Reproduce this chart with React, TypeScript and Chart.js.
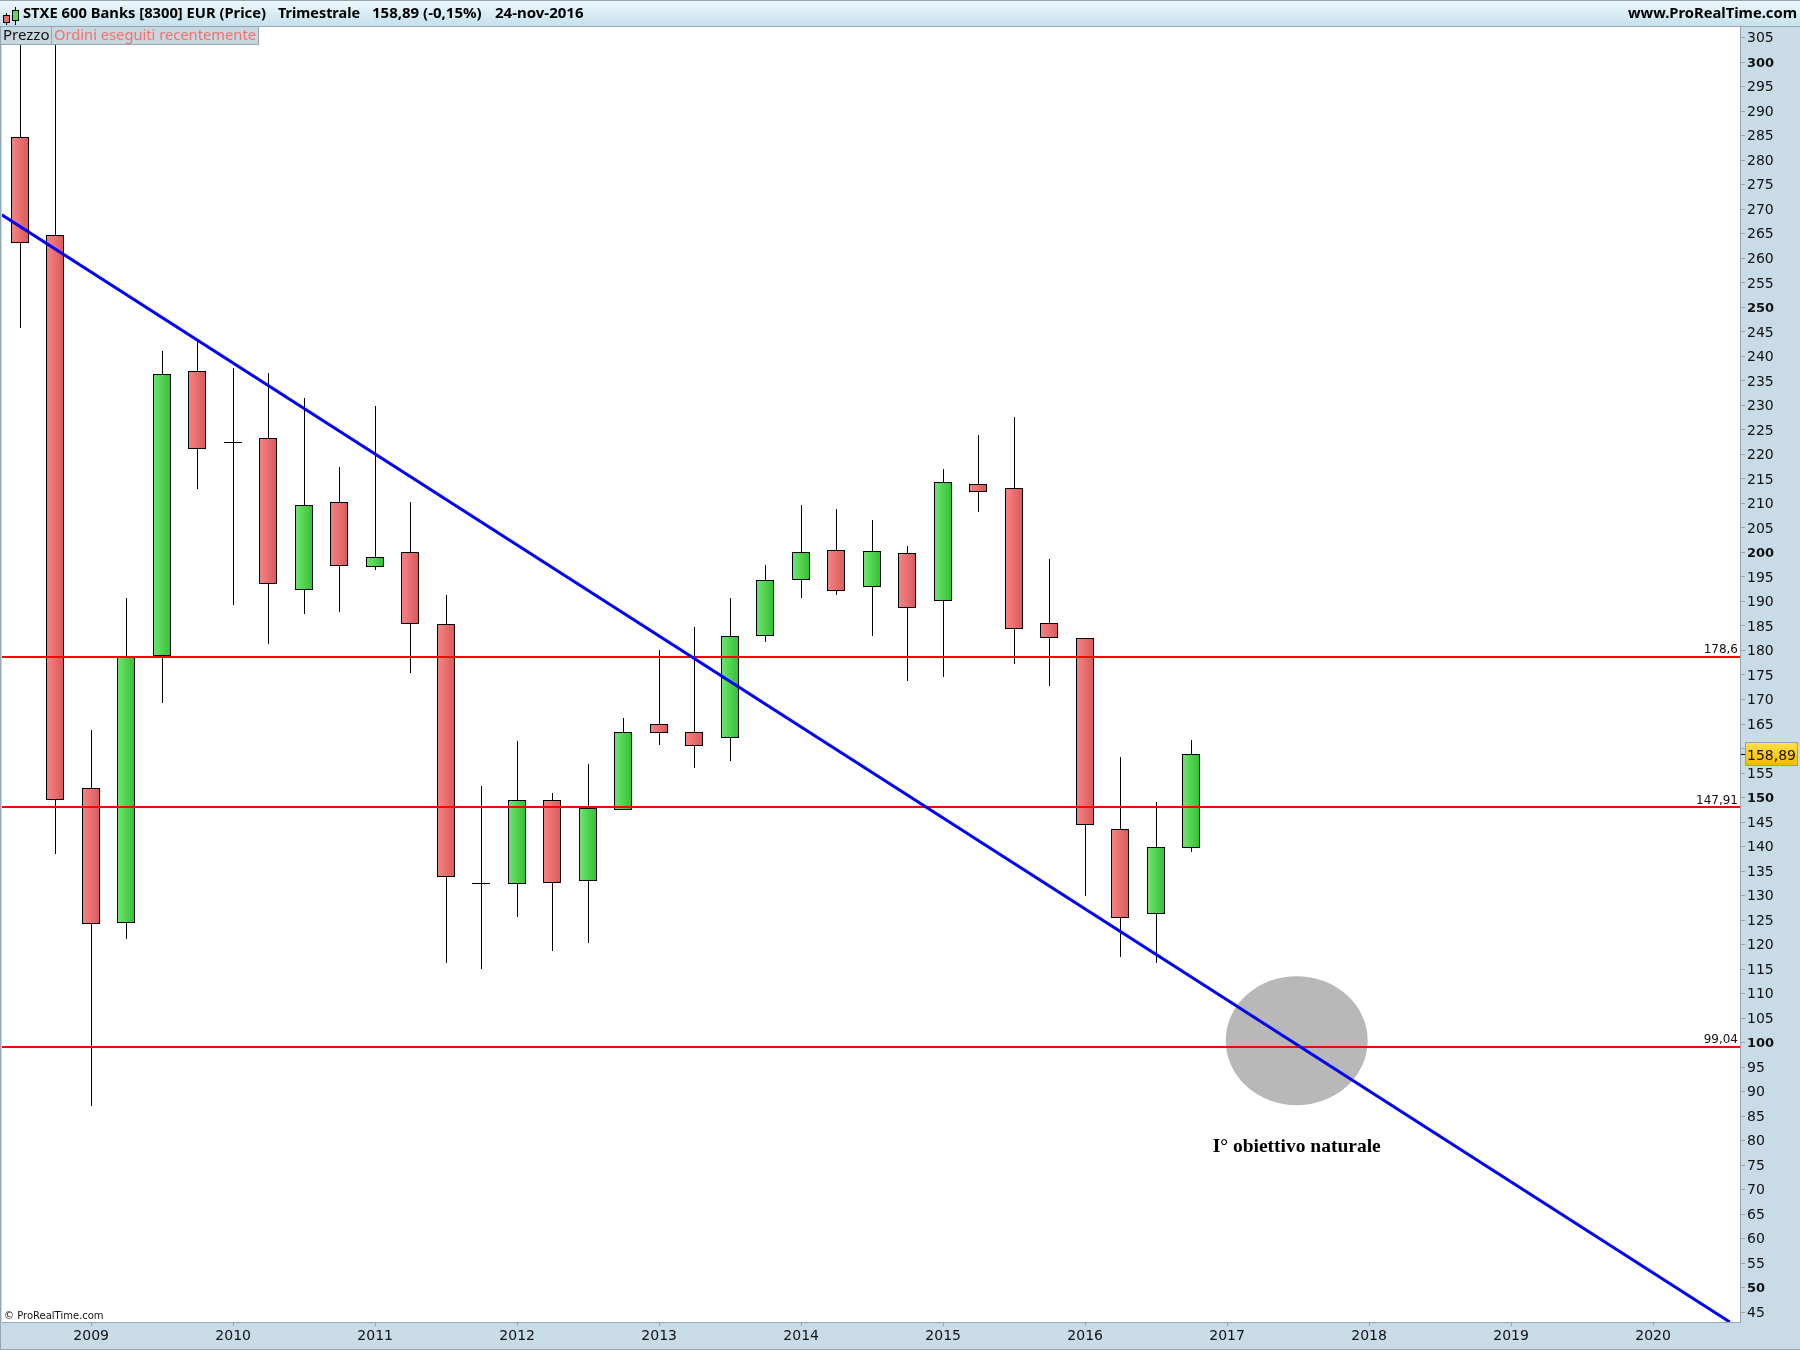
import React, { useEffect, useRef } from "react";
import { Chart, registerables } from "chart.js";

Chart.register(...registerables);

const quarters = [2008.5,2008.75,2009,2009.25,2009.5,2009.75,2010,2010.25,2010.5,2010.75,2011,2011.25,2011.5,2011.75,2012,2012.25,2012.5,2012.75,2013,2013.25,2013.5,2013.75,2014,2014.25,2014.5,2014.75,2015,2015.25,2015.5,2015.75,2016,2016.25,2016.5,2016.75];
const opens = [284.7,264.8,151.9,124.5,178.9,237,222.5,223.3,192.4,210.3,197.1,200.1,185.5,132.5,132.4,149.5,133,147.5,165,163.4,162.2,183,194.4,200.4,193,199.8,190,213.9,213.1,185.7,182.5,143.5,126.3,139.8];
const closes = [263.2,149.4,124.3,178.8,236.4,221.2,222.5,193.6,209.7,197.3,199.1,185.5,133.7,132.5,149.5,132.6,147.9,163.4,163.2,160.6,183,194.3,200,192.2,200.2,188.7,214.3,212.4,184.4,182.6,144.3,125.5,140,158.89];
const highs = [330,330,163.8,190.7,241.1,243.1,237.6,236.6,231.5,217.4,229.9,210.3,191.4,152.4,161.5,150.9,156.8,166.2,180.1,184.8,190.7,197.4,209.7,208.9,206.6,201.3,217,224,227.6,198.7,182.5,158.3,149.1,161.7];
const lows = [245.8,138.5,87.1,121.2,169.3,213,189.3,181.4,187.5,187.9,196.5,175.5,116.3,115.1,125.7,118.7,120.4,147.4,160.8,156,157.4,181.8,190.8,191.4,183,173.8,174.6,208.3,177.3,172.8,130,117.5,116.3,138.9];

const levels = [178.6, 147.91, 99.04];
const levelLabels = ["178,6", "147,91", "99,04"];
const trendX = [2008.37, 2020.54];
const trendY = [268.9, 43];
const lastPrice = 158.89;
const lastPriceLabel = "158,89";
const target = { x: 2017.49, y: 100.4, rx: 0.5, ry: 13.16, labelY: 78.8 };
const targetLabel = "I° obiettivo naturale";

const X_MIN = 2008.372, X_MAX = 2020.612, Y_MIN = 43, Y_MAX = 307.2;
const PANEL = "#c9dbe6", EDGE = "#93a6b2", BODY_W = 18;
const AXIS_FONT = "'DejaVu Sans'";
const HEAD_FONT = "'Noto Sans'";

const headerTexts: [string, number, number][] = [
  ["STXE 600 Banks [8300] EUR (Price)", 23, 243],
  ["Trimestrale", 278, 82],
  ["158,89 (-0,15%)", 372, 112],
  ["24-nov-2016", 495, 90],
];

const snap = {
  id: "snap",
  afterDatasetsUpdate(chart: any) {
    chart.getSortedVisibleDatasetMetas().forEach((m: any) => {
      if (m.type === "line") {
        if (m.data.length === 2 && m.data[0].y === m.data[1].y) {
          m.data.forEach((p: any) => { p.y = Math.floor(p.y); });
        }
        return;
      }
      m.data.forEach((el: any) => {
        el.x = el.width > 1 ? Math.floor(el.x) : Math.floor(el.x) + 0.5;
        el.y = Math.round(el.y);
        el.base = Math.round(el.base);
        if (Math.abs(el.y - el.base) < 1) el.base = el.y + 1;
      });
    });
  },
};

const chrome = {
  id: "chrome",
  beforeDraw(chart: any) {
    const { ctx, chartArea: a, width, height } = chart;
    ctx.save();
    ctx.fillStyle = PANEL;
    ctx.fillRect(0, 0, width, height);
    ctx.fillStyle = "#ffffff";
    ctx.fillRect(a.left, a.top, a.right - a.left, a.bottom - a.top);
    ctx.fillStyle = EDGE;
    ctx.fillRect(0, 0, 1, height);
    ctx.fillRect(0, height - 1, width, 1);
    ctx.restore();
  },
  beforeDatasetsDraw(chart: any) {
    const { ctx, scales } = chart;
    const cx = scales.x.getPixelForValue(target.x);
    const cy = scales.y.getPixelForValue(target.y);
    const rx = Math.abs(scales.x.getPixelForValue(target.x + target.rx) - cx);
    const ry = Math.abs(scales.y.getPixelForValue(target.y + target.ry) - cy);
    ctx.save();
    ctx.fillStyle = "#b8b8b8";
    ctx.beginPath();
    ctx.ellipse(cx, cy, rx, ry, 0, 0, Math.PI * 2);
    ctx.fill();
    ctx.fillStyle = "#000000";
    ctx.font = "bold 19.5px 'Liberation Serif'";
    ctx.textAlign = "center";
    ctx.textBaseline = "middle";
    ctx.fillText(targetLabel, cx, scales.y.getPixelForValue(target.labelY));
    ctx.restore();
  },
  afterDraw(chart: any) {
    const { ctx, scales, chartArea: a, width } = chart;
    ctx.save();
    // level labels
    ctx.fillStyle = "#111111";
    ctx.font = `12px ${AXIS_FONT}`;
    ctx.textAlign = "right";
    ctx.textBaseline = "bottom";
    levels.forEach((v, i) => ctx.fillText(levelLabels[i], a.right - 2, scales.y.getPixelForValue(v) - 1));
    ctx.font = `10px ${AXIS_FONT}`;
    ctx.textAlign = "left";
    ctx.fillText("© ProRealTime.com", 4, a.bottom - 1);

    // header
    const g = ctx.createLinearGradient(0, 0, 0, 26);
    g.addColorStop(0, "#eef9fd");
    g.addColorStop(1, "#c6e0ec");
    ctx.fillStyle = g;
    ctx.fillRect(0, 0, width, 26);
    ctx.fillStyle = EDGE;
    ctx.fillRect(0, 26, width, 1);
    ctx.fillRect(0, 0, width, 1);
    // icon
    ctx.fillStyle = "#000";
    ctx.fillRect(6, 13, 1, 12);
    ctx.fillRect(15, 7, 1, 18);
    ctx.fillStyle = "#e86a6a";
    ctx.strokeStyle = "#000";
    ctx.fillRect(3.5, 15.5, 6, 7);
    ctx.strokeRect(3.5, 15.5, 6, 7);
    ctx.fillStyle = "#55dd55";
    ctx.fillRect(12.5, 10.5, 6, 10);
    ctx.strokeRect(12.5, 10.5, 6, 10);
    ctx.fillStyle = "#000";
    ctx.font = `bold 15px ${HEAD_FONT}`;
    ctx.textBaseline = "middle";
    ctx.textAlign = "left";
    headerTexts.forEach(([t, x, w]) => ctx.fillText(t, x, 13.5, w));
    ctx.textAlign = "right";
    ctx.fillText("www.ProRealTime.com", 1797, 13.5, 169);

    // tabs
    ctx.fillStyle = "#c8d6de";
    ctx.fillRect(1, 27, 257, 18);
    ctx.fillStyle = EDGE;
    ctx.fillRect(51, 27, 1, 18);
    ctx.fillRect(1, 44, 257, 1);
    ctx.fillRect(258, 27, 1, 18);
    ctx.textAlign = "left";
    ctx.font = `15px ${HEAD_FONT}`;
    ctx.fillStyle = "#111";
    ctx.fillText("Prezzo", 3, 36);
    ctx.fillStyle = "#f07272";
    ctx.fillText("Ordini eseguiti recentemente", 54, 36, 202);

    // last price tag
    const py = scales.y.getPixelForValue(lastPrice);
    const tg = ctx.createLinearGradient(0, py - 12, 0, py + 12);
    tg.addColorStop(0, "#ffe24a");
    tg.addColorStop(1, "#f4b800");
    ctx.fillStyle = "#000";
    ctx.fillRect(a.right + 1, py, 4, 1);
    ctx.fillStyle = tg;
    ctx.fillRect(1745.5, Math.round(py) - 11.5, 52, 23);
    ctx.strokeStyle = "#94a0a8";
    ctx.strokeRect(1745.5, Math.round(py) - 11.5, 52, 23);
    ctx.fillStyle = "#111";
    ctx.font = `14px ${AXIS_FONT}`;
    ctx.textBaseline = "middle";
    ctx.fillText(lastPriceLabel, 1747, py + 2);
    ctx.restore();
  },
};

function bodyFill(ctx: any) {
  const chart = ctx.chart;
  const raw = ctx.raw;
  if (!raw || !chart.scales.x) return "#888888";
  const px = Math.floor(chart.scales.x.getPixelForValue(raw.x));
  if (!Number.isFinite(px)) return "#888888";
  const up = raw.y[1] >= raw.y[0];
  const g = chart.ctx.createLinearGradient(px - BODY_W / 2, 0, px + BODY_W / 2, 0);
  g.addColorStop(0, up ? "#6ee86e" : "#f98484");
  g.addColorStop(1, up ? "#35bd35" : "#d65a5a");
  return g;
}

export default function App() {
  const ref = useRef<HTMLCanvasElement>(null);
  useEffect(() => {
    const wicks = quarters.map((x, i) => ({ x, y: [lows[i], highs[i]] }));
    const bodies = quarters.map((x, i) => ({ x, y: [opens[i], closes[i]] }));
    const levelSets = levels.map((v) => ({
      type: "line" as const,
      data: [{ x: X_MIN, y: v }, { x: X_MAX, y: v }],
      borderColor: "#ff0000",
      borderWidth: 2,
      pointRadius: 0,
      order: 1,
    }));
    const chart = new Chart(ref.current as HTMLCanvasElement, {
      type: "bar",
      data: {
        datasets: [
          {
            type: "line",
            data: trendX.map((x, i) => ({ x, y: trendY[i] })),
            borderColor: "#0000ff",
            borderWidth: 3,
            pointRadius: 0,
            order: 0,
          },
          ...levelSets,
          {
            data: bodies,
            backgroundColor: bodyFill,
            borderColor: "#000000",
            borderWidth: 1,
            borderSkipped: false,
            barThickness: BODY_W,
            inflateAmount: 0,
            grouped: false,
            order: 2,
          },
          {
            data: wicks,
            backgroundColor: "#000000",
            borderWidth: 0,
            barThickness: 1,
            inflateAmount: 0,
            grouped: false,
            order: 3,
          },
        ] as any,
      },
      options: {
        responsive: false,
        animation: false,
        devicePixelRatio: 1,
        layout: { padding: { left: 2, top: 27, right: 0, bottom: 0 } },
        plugins: { legend: { display: false }, tooltip: { enabled: false } },
        scales: {
          x: {
            type: "linear",
            min: X_MIN,
            max: X_MAX,
            offset: false,
            afterFit: (s: any) => { s.height = 28; },
            grid: { offset: false, drawOnChartArea: false, tickLength: 4, color: EDGE },
            border: { color: EDGE, width: 1 },
            ticks: {
              stepSize: 1,
              includeBounds: false,
              autoSkip: false,
              maxRotation: 0,
              padding: 2,
              color: "#111111",
              font: { family: AXIS_FONT, size: 14 },
              callback: (v: any) => String(v),
            },
          },
          y: {
            type: "linear",
            position: "right",
            min: Y_MIN,
            max: Y_MAX,
            afterFit: (s: any) => { s.width = 60; },
            grid: { drawOnChartArea: false, tickLength: 5, color: EDGE },
            border: { color: EDGE, width: 1 },
            ticks: {
              stepSize: 5,
              includeBounds: false,
              autoSkip: false,
              padding: 2,
              labelOffset: 1,
              color: "#111111",
              font: (c: any) => {
                const major = c.tick && c.tick.value % 50 === 0;
                return { family: AXIS_FONT, size: major ? 13 : 14, weight: major ? "bold" : "normal" };
              },
              callback: (v: any) => String(v),
            },
          },
        },
      } as any,
      plugins: [snap, chrome],
    });
    return () => chart.destroy();
  }, []);
  return (
    <div style={{ position: "absolute", left: 0, top: 0, width: 1800, height: 1350 }}>
      <canvas ref={ref} width={1800} height={1350} style={{ display: "block" }} />
    </div>
  );
}
